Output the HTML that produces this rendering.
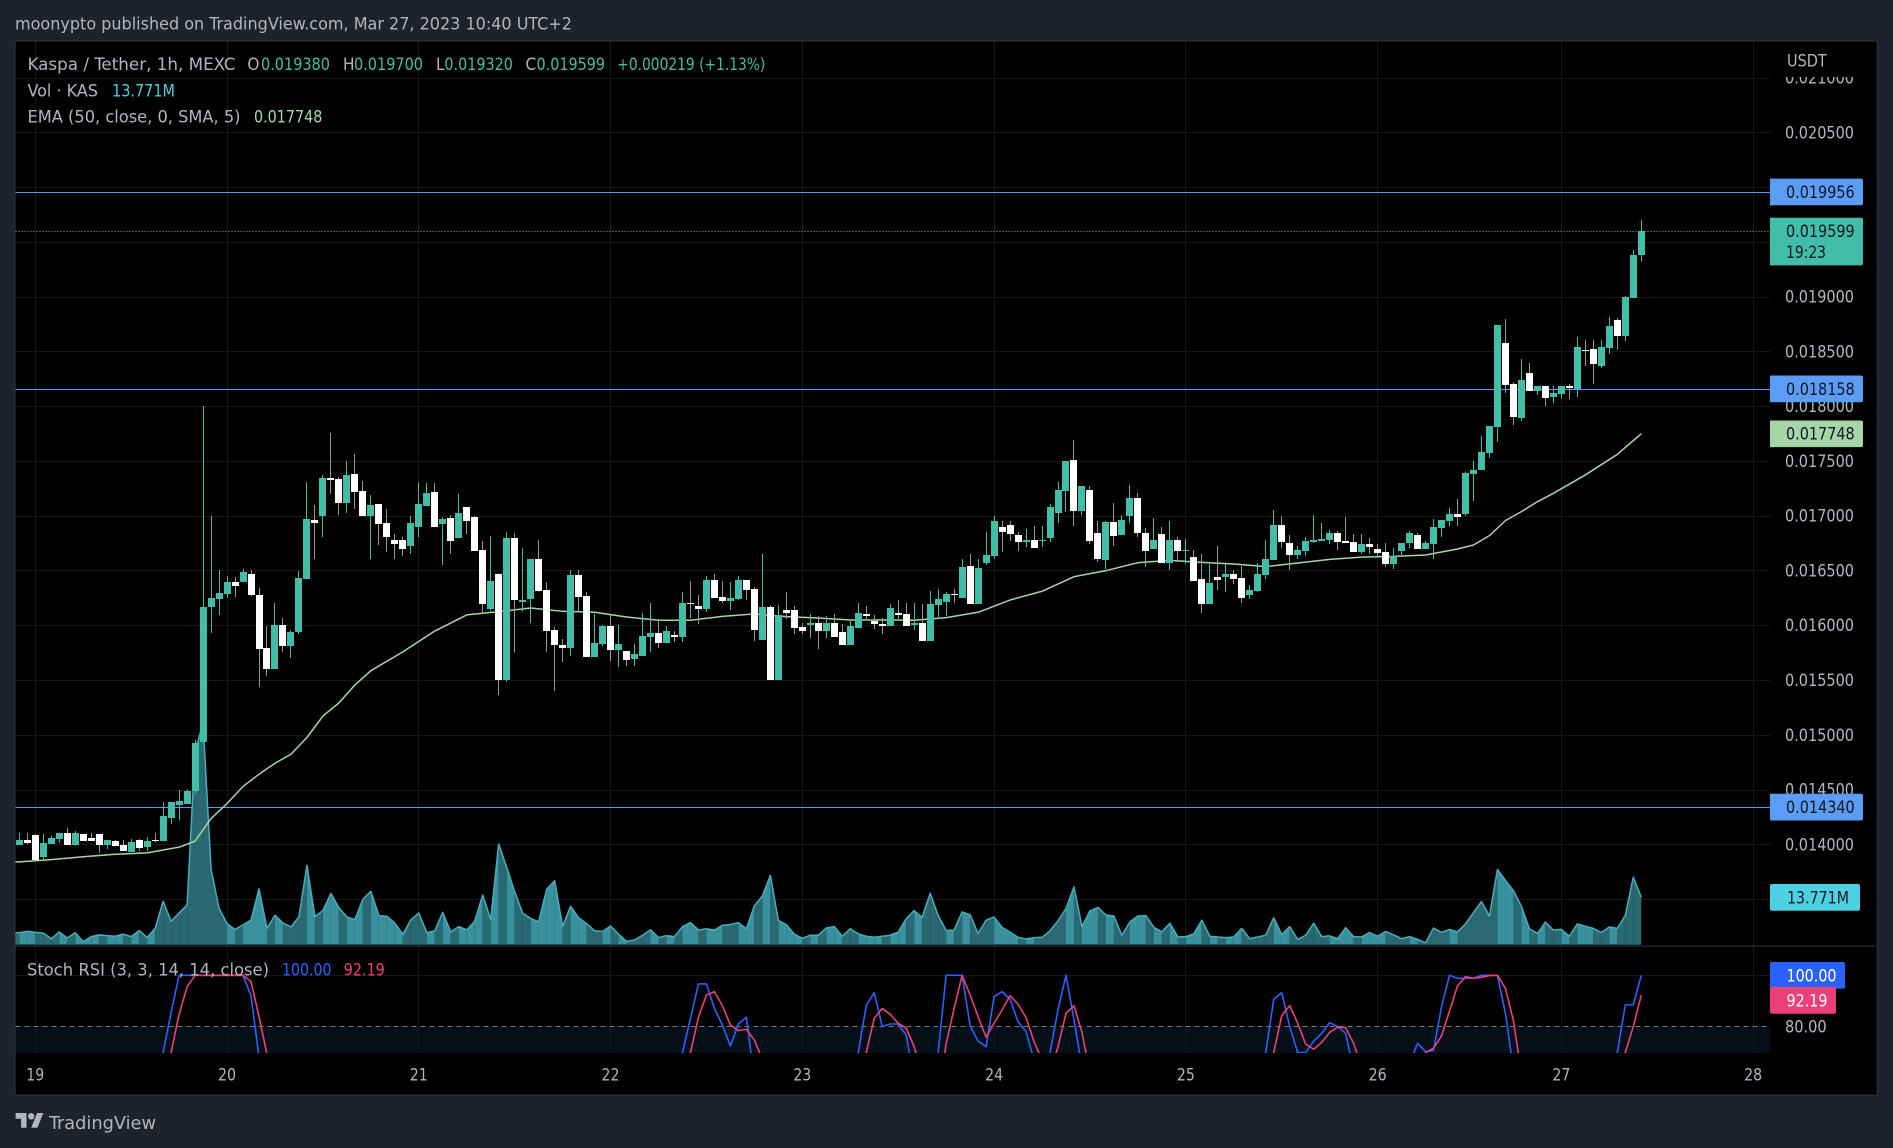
<!DOCTYPE html>
<html lang="en">
<head>
<meta charset="utf-8">
<title>Kaspa / Tether 1h chart</title>
<style>
html,body{margin:0;padding:0;background:#1e222d;width:1893px;height:1148px;overflow:hidden}
svg{display:block}
text{font-family:"DejaVu Sans Condensed","DejaVu Sans",sans-serif;font-stretch:condensed;font-size:17px;fill:#b2b5be}
</style>
</head>
<body>
<svg id="chart" xmlns="http://www.w3.org/2000/svg" width="1893" height="1148" viewBox="0 0 1893 1148">
  <defs>
    <clipPath id="plot-clip"><rect x="15.5" y="41.5" width="1754.5" height="904"/></clipPath>
    <clipPath id="stoch-clip"><rect x="15.5" y="947" width="1754.5" height="106"/></clipPath>
    <clipPath id="axis-clip"><rect x="1771" y="77" width="105" height="869"/></clipPath>
  </defs>
  <rect x="0" y="0" width="1893" height="1148" fill="#1e222d"/>
  <text x="15" y="29.7" textLength="557" lengthAdjust="spacingAndGlyphs">moonypto published on TradingView.com, Mar 27, 2023 10:40 UTC+2</text>
  <rect x="14.8" y="40.8" width="1862.7" height="1054.5" fill="#000" stroke="#2a2e39" stroke-width="1.5"/>

  <rect id="stoch-band" x="15.5" width="1754.5" fill="#040f17"/>
  <g id="grid"></g>
  <g id="levels"></g>
  <g id="volume" clip-path="url(#plot-clip)"></g>
  <g id="ema" clip-path="url(#plot-clip)"></g>
  <g id="candles" clip-path="url(#plot-clip)"></g>
  <g id="stoch" clip-path="url(#stoch-clip)"></g>

  <rect x="15.5" y="945.5" width="1861" height="1.2" fill="#2a2e39"/>

  <g>
    <text x="27.5" y="70" textLength="208" lengthAdjust="spacingAndGlyphs">Kaspa / Tether, 1h, MEXC</text>
    <text x="247.4" y="70">O</text>
    <text x="261" y="70" textLength="69" lengthAdjust="spacingAndGlyphs" style="fill:#42bda8">0.019380</text>
    <text x="343" y="70">H</text>
    <text x="354" y="70" textLength="69" lengthAdjust="spacingAndGlyphs" style="fill:#42bda8">0.019700</text>
    <text x="436" y="70">L</text>
    <text x="444.4" y="70" textLength="68.5" lengthAdjust="spacingAndGlyphs" style="fill:#42bda8">0.019320</text>
    <text x="525.5" y="70">C</text>
    <text x="536.5" y="70" textLength="68.5" lengthAdjust="spacingAndGlyphs" style="fill:#42bda8">0.019599</text>
    <text x="617.3" y="70" textLength="148" lengthAdjust="spacingAndGlyphs" style="fill:#42bda8">+0.000219 (+1.13%)</text>
    <text x="27.5" y="96.5" textLength="70.5" lengthAdjust="spacingAndGlyphs">Vol · KAS</text>
    <text x="112" y="96.5" textLength="63" lengthAdjust="spacingAndGlyphs" style="fill:#4dd0e1">13.771M</text>
    <text x="27.5" y="122.7" textLength="213" lengthAdjust="spacingAndGlyphs">EMA (50, close, 0, SMA, 5)</text>
    <text x="254" y="122.7" textLength="68.4" lengthAdjust="spacingAndGlyphs" style="fill:#a5d6a7">0.017748</text>
    <text x="27" y="975.7" textLength="242" lengthAdjust="spacingAndGlyphs">Stoch RSI (3, 3, 14, 14, close)</text>
    <text x="282" y="975.7" textLength="49.5" lengthAdjust="spacingAndGlyphs" style="fill:#2962ff">100.00</text>
    <text x="343.8" y="975.7" textLength="41" lengthAdjust="spacingAndGlyphs" style="fill:#ec407a">92.19</text>
  </g>

  <g id="price-axis" clip-path="url(#axis-clip)"></g>
  <text x="1787" y="66.7" textLength="39.7" lengthAdjust="spacingAndGlyphs">USDT</text>
  <g id="time-axis"></g>
  <g id="labels"></g>

  <text x="1785" y="1032.3" textLength="41.7" lengthAdjust="spacingAndGlyphs">80.00</text>
  <rect x="1770" y="962" width="75" height="26.7" rx="2" fill="#2962ff"/>
  <text x="1786.5" y="981.3" textLength="50" lengthAdjust="spacingAndGlyphs" style="fill:#fff">100.00</text>
  <rect x="1770" y="987" width="66" height="26.7" rx="2" fill="#ec407a"/>
  <text x="1786.5" y="1006.3" textLength="41" lengthAdjust="spacingAndGlyphs" style="fill:#fff">92.19</text>
  <rect x="1770" y="884" width="90" height="26.7" rx="2" fill="#4dd0e1"/>
  <text x="1787" y="903.3" textLength="62" lengthAdjust="spacingAndGlyphs" style="fill:#131722">13.771M</text>

  <g>
    <g transform="translate(15.6 1109.7) scale(0.78 0.82)" fill="#b2b5be">
      <path d="M14 22H7V11H0V4h14v18zM28 22h-8l7.5-18h8L28 22z"/>
      <circle cx="20" cy="8" r="4"/>
    </g>
    <text x="49" y="1129" textLength="107" lengthAdjust="spacingAndGlyphs" style="font-size:18px">TradingView</text>
  </g>
</svg>
<script>
// prices are in micro-USDT (1e-6), one entry per hourly bar
const opens=[13994,14039,14085,13883,14003,14049,14104,13994,14095,14059,
14095,13994,14029,13994,13928,14039,13974,14036,14029,14241,
14359,14369,14486,14933,16165,16240,16286,16393,16393,16468,
16276,15793,15601,16002,15810,15937,16423,16961,16996,17345,
17335,17117,17381,17225,16996,17107,16934,16778,16778,16722,
16895,17088,17215,16925,16980,16797,17078,16987,16687,16149,
16468,15500,16796,16212,16240,16605,16322,15956,15819,15792,
16458,16267,15710,15829,15993,15774,15765,15692,15719,15893,
15929,15838,15911,15893,16203,16175,16148,16413,16258,16221,
16240,16413,16331,15865,16167,15500,16139,16139,15984,16002,
16020,15947,16020,15938,15819,15975,16103,16039,16011,15993,
16112,16103,16002,16020,15856,16185,16212,16285,16249,16541,
16194,16568,16632,16897,16915,16824,16760,16778,16769,16796,
17025,17225,17508,17043,17235,16842,16595,16942,16824,16997,
17161,16842,16696,16833,16568,16778,16678,16623,16422,16194,
16441,16441,16468,16431,16276,16312,16458,16595,16915,16751,
16641,16678,16760,16769,16778,16842,16769,16760,16669,16742,
16696,16669,16559,16678,16751,16824,16696,16742,16888,16952,
17015,17015,17381,17417,17572,17810,18577,18202,17892,18303,
18138,18184,18084,18111,18184,18154,18513,18522,18367,18531,
18787,18640,18987,19380];
const highs=[14104,14104,14091,14095,14078,14104,14150,14121,14095,14104,
14095,14039,14039,14039,14049,14049,14065,14104,14385,14385,
14496,14502,14952,18001,16996,16504,16449,16439,16514,16504,
16341,15992,16204,16067,15953,16494,17306,17097,17371,17756,
17352,17498,17564,17316,17189,17107,17062,16833,16804,16996,
17306,17300,17300,16987,17006,17199,17078,16996,16768,16814,
16474,16851,16842,16705,16605,16778,16392,15984,15874,16504,
16504,16303,16103,16002,16094,16002,15765,15829,16112,16203,
16057,15993,15947,16303,16404,16276,16450,16468,16404,16395,
16450,16413,16349,16650,16185,16185,16303,16175,16020,16103,
16084,16084,16103,16011,16048,16203,16175,16094,16066,16194,
16230,16203,16203,16194,16312,16331,16303,16331,16605,16650,
16605,16851,16997,16952,16952,16851,16879,16906,16906,17107,
17308,17499,17691,17271,17271,16952,16952,17116,17006,17280,
17207,16887,16979,16897,16952,16805,16787,16687,16650,16559,
16723,16559,16504,16541,16367,16568,16778,17052,16997,16824,
16723,16805,17006,16933,16869,16860,16988,16833,16833,16796,
16742,16751,16705,16751,16860,16842,16769,16970,16961,17070,
17152,17402,17499,17728,17819,18741,18796,18220,18430,18394,
18184,18184,18184,18184,18202,18631,18604,18604,18604,18814,
18805,19006,19426,19700];
const lows=[13994,14003,13857,13857,14003,14013,13994,13987,14029,14029,
13922,13958,13984,13938,13928,13938,13938,14020,14029,14186,
14222,14369,14463,14933,15930,16093,16250,16256,16393,16266,
15435,15536,15601,15754,15702,15920,16423,16605,16804,17199,
17006,17026,17062,16996,16605,16732,16667,16605,16631,16651,
16804,17088,16895,16550,16651,16797,16833,16677,16106,16132,
15363,15485,15750,16124,16023,16306,15755,15400,15664,15719,
16130,15710,15710,15810,15674,15619,15628,15628,15719,15755,
15792,15838,15847,15847,16066,16011,16121,16249,16203,16139,
16230,16230,15856,15865,15500,15500,16057,15920,15920,15884,
15783,15884,15893,15819,15819,15975,16039,15966,15920,15993,
16057,15993,15956,15856,15856,16075,16084,16203,16249,16194,
16194,16550,16608,16669,16769,16678,16714,16705,16714,16760,
16933,17034,16906,17007,16742,16577,16513,16723,16824,16933,
16805,16532,16696,16568,16504,16577,16559,16404,16112,16194,
16322,16303,16376,16203,16240,16303,16422,16595,16705,16504,
16605,16632,16751,16769,16742,16687,16751,16669,16650,16650,
16632,16532,16513,16641,16705,16696,16696,16605,16806,16906,
16906,16997,17134,17417,17527,17673,18120,17828,17864,18138,
18102,18001,18029,18065,18065,18084,18367,18202,18348,18476,
18513,18595,18987,19320];
const closes=[14039,14013,13860,14013,14059,14104,13994,14104,14029,14029,
13994,14039,13984,13938,14020,13967,14029,14029,14258,14385,
14395,14486,14926,16165,16250,16295,16393,16357,16484,16276,
15783,15601,16002,15810,15937,16432,16970,16934,17345,17326,
17117,17371,17215,16996,17097,16925,16804,16742,16696,16934,
17107,17208,16895,16970,16768,17026,16951,16677,16194,16403,
15500,16796,16230,16230,16605,16312,15947,15819,15792,16458,
16258,15710,15838,15993,15774,15829,15683,15737,15902,15929,
15838,15947,15893,16203,16194,16148,16413,16249,16221,16249,
16413,16322,15956,16167,15500,16094,16112,15975,15947,16020,
15947,16020,15893,15819,15993,16112,16084,16011,15993,16157,
16094,15993,16020,15856,16194,16240,16285,16276,16532,16194,
16523,16641,16952,16851,16833,16760,16778,16705,16778,17079,
17235,17499,17043,17271,16769,16605,16942,16815,16961,17161,
16842,16678,16778,16568,16778,16678,16687,16404,16194,16386,
16413,16468,16422,16249,16322,16468,16605,16915,16760,16641,
16687,16769,16778,16787,16842,16760,16751,16669,16742,16714,
16660,16559,16632,16751,16842,16696,16751,16897,16961,17015,
16988,17390,17417,17582,17819,18741,18193,17901,18239,18138,
18184,18074,18120,18184,18166,18540,18504,18385,18540,18732,
18640,18996,19380,19599];
// volume in millions of KAS
const volumes=[3.44,3.86,3.54,3.33,1.67,3.65,1.88,3.44,0.83,2.29,
2.81,2.6,2.4,3.02,2.29,4.06,2.08,4.69,12.6,6.77,
9.2,11.5,56.3,64.6,21.9,10.6,6.04,4.38,5.73,7.09,
16.2,4.69,8.54,6.25,5.11,8.02,23.1,8.13,9.9,14.9,
10.7,8.02,7.29,13.2,15.5,8.44,8.23,6.25,2.92,7.19,
9.17,3.44,3.96,9.38,3.65,5.21,4.27,6.77,14.4,7.29,
29.3,22.5,15.4,9.1,7.6,6.6,16.1,18.6,5.3,11.1,
7.8,6.1,4.0,3.8,5.4,3.0,0.9,1.3,2.7,4.3,
2.0,2.6,2.3,5.2,6.4,4.2,4.6,4.2,5.6,5.8,
6.4,4.6,11.3,14.1,20.2,7.0,5.8,3.0,1.8,2.7,
2.7,4.8,5.2,2.4,4.6,3.1,2.4,2.1,2.4,2.7,
3.6,7.5,9.9,7.9,14.9,8.5,4.1,4.2,9.5,8.7,
3.2,7.1,8.0,5.0,3.6,2.1,1.6,2.0,2.1,4.0,
6.9,10.5,16.8,5.2,9.8,10.8,8.6,8.3,2.7,6.6,
8.3,8.4,5.0,3.7,6.2,2.2,2.3,3.1,7.1,2.4,
2.2,2.0,2.2,4.7,1.7,2.2,2.7,7.8,2.9,5.2,
1.5,2.7,6.2,2.3,2.5,1.7,4.9,2.3,2.2,3.5,
2.4,3.8,2.8,1.7,2.3,1.5,0.5,4.8,3.5,4.4,
3.7,6.0,9.3,12.5,8.3,21.9,18.7,15.7,11.1,4.6,
3.2,6.5,4.2,4.4,2.4,6.0,5.3,4.7,3.5,5.1,
4.7,8.5,19.6,13.771];
// EMA read at these bars
const emaBars=[0,4,8,12,16,20,22,24,26,28,30,32,34,36,38,40,42,44,48,52,56,60,64,68,72,76,80,84,88,92,96,100,104,108,112,116,120,124,128,132,136,140,144,148,152,156,160,164,168,172,176,180,182,184,186,188,190,192,196,200,203];
const emaValues=[13840,13860,13886,13909,13922,13974,14029,14235,14372,14528,14639,14740,14822,14975,15171,15291,15454,15585,15757,15947,16094,16124,16157,16127,16118,16075,16045,16045,16081,16103,16078,16066,16048,16048,16045,16069,16118,16230,16310,16443,16498,16571,16592,16574,16559,16535,16568,16601,16622,16628,16641,16696,16732,16818,16955,17037,17128,17204,17372,17560,17748];
// Stoch RSI; values under about 70 are outside the visible pane and are estimates
const stochK=[12,18,25,30,33,40,48,45,38,30,24,20,15,10,8,12,25,42,69.7,85.4,
100,100,100,100,100,100,100,100,100,92,68,45,
52,61,66,58,49,38,30,24,19,15,22,34,44,52,47,39,31,26,20,16,12,9,14,22,31,40,46,37,28,22,17,13,18,27,36,45,52,48,41,33,26,20,16,21,30,38,47,55,60,64,66,
69.7,83.1,96.6,96.6,87,80.5,72.3,80.9,83.6,59,
40,28,19,12,8,6,9,15,24,33,44,55,
69.7,88.1,93.2,79.9,80.9,80.9,76.6,59,45,52,
69.7,100,100,100,80.2,74.2,72,91.6,93.6,90.6,81.8,77.9,66.8,48,69.7,86.4,100,82.5,64,
48,36,26,18,11,6,4,7,13,21,30,39,46,41,33,25,18,14,20,31,45,58,
69.7,90.6,93.2,79.9,69.7,69.7,74.2,77.2,81.4,79.9,77.2,62.9,
50,42,38,45,52,60,
65.5,73.3,70.1,70.5,87.7,100,98.8,98.8,98.8,100,100,100,85.1,62.9,
44,30,18,9,5,3,6,12,20,30,42,55,
69.7,88.4,88.4,100];
const stochD=[15,14,18,24,29,33,39,44,44,38,31,25,20,15,11,10,15,26,50,
69.7,84.7,95.5,100,100,100,100,100,100,100,97.5,83.8,69,
55,50,58,62,57,48,38,30,24,19,18,24,33,43,48,46,39,32,26,21,16,12,12,15,22,31,39,41,37,29,22,17,16,19,27,36,44,48,47,41,33,26,21,19,23,30,38,47,54,59,62,64,
69.7,83.5,92.3,93.6,88.1,80.5,78.3,78.8,74.6,67,
50,35,25,18,12,8,8,11,17,25,34,55,
69.7,83.1,87,84.7,81.2,79.2,72,61,52,50,
73.3,87,100,92.3,83.8,75.7,81.2,86.4,92,88.7,83.4,74,66.8,62,72,85.1,88.1,77.6,61.6,
52,40,30,21,14,9,7,8,13,20,29,37,42,41,33,26,20,17,21,33,46,60,
69.7,84.2,88.1,81.2,73,71,73.7,77.6,79.7,79.5,73.3,64,
55,47,44,45,50,57,63,
69.7,71.4,76.2,86,95.8,99.5,98.8,99.2,99.9,100,94.9,82.2,61.6,
45,32,19,10,6,5,8,13,21,31,42,55,
69.7,79.9,92.19];
// axis tick labels and categories
const priceTickLabels=["0.021000","0.020500","0.020000","0.019500","0.019000","0.018500","0.018000","0.017500","0.017000","0.016500","0.016000","0.015500","0.015000","0.014500","0.014000"];
const gridPriceExtra=["0.013500"];
const dayLabels=["19","20","21","22","23","24","25","26","27","28"];
const dayBars=[2,26,50,74,98,122,146,170,193,217];
const levelValues=[19956,18158,14340];
const levelLabels=["0.019956","0.018158","0.014340"];
const lastEma=17748;
const lastEmaLabel="0.017748";
const lastPriceLabel="0.019599";
const countdownLabel="19:23";
const stochUpper=80;
const stochTop=100;

const NS='http://www.w3.org/2000/svg';
const xBar=i=>19.3+7.99*i;
const yPrice=p=>132.3+(20500-p)*0.109538;
const yVol=v=>944.5-v*3.43;
// the pane clips below its floor, so off-pane values are held just inside the page
const yStoch=s=>Math.min(975.3+(100-s)*2.55,1140);
const plotLeft=15.5, plotRight=1770, plotTop=41.5, stochBottom=1053;
const UP='#42bda8', DOWN='#ffffff', DOWN_WICK='#98989c';

function make(tag,attrs,parent){
  const el=document.createElementNS(NS,tag);
  for(const k in attrs) el.setAttribute(k,attrs[k]);
  parent.appendChild(el);
  return el;
}
const $=id=>document.getElementById(id);

// stoch band
const band=$('stoch-band');
band.setAttribute('y',yStoch(stochUpper));
band.setAttribute('height',stochBottom-yStoch(stochUpper));

// grid
const gridG=$('grid');
priceTickLabels.concat(gridPriceExtra).forEach(l=>{
  const y=Math.round(yPrice(Number(l)*1e6))+0.5;
  const ln=make('line',{x1:plotLeft,x2:plotRight,y1:y,y2:y,stroke:'#15171c','stroke-width':1},gridG);
  
  
});
dayBars.forEach(b=>{
  const x=Math.floor(xBar(b))+0.5;
  const ln=make('line',{x1:x,x2:x,y1:plotTop,y2:stochBottom,stroke:'#14171b','stroke-width':1},gridG);
  
  
});
{
  const y=Math.round(yStoch(stochTop))+0.5;
  const ln=make('line',{x1:plotLeft,x2:plotRight,y1:y,y2:y,stroke:'#15171c','stroke-width':1},gridG);
  
  
}
{
  const y=Math.round(yStoch(stochUpper))+0.5;
  const ln=make('line',{x1:plotLeft,x2:plotRight,y1:y,y2:y,stroke:'#787b86','stroke-width':1,'stroke-dasharray':'5 4'},gridG);
  
  
}

// levels
const levelsG=$('levels');
levelValues.forEach(v=>{
  const y=Math.round(yPrice(v))+0.5;
  const ln=make('line',{x1:plotLeft,x2:plotRight,y1:y,y2:y,stroke:'#5b9cf6','stroke-width':1},levelsG);
  
  
});
{
  const y=Math.round(yPrice(closes[closes.length-1]))+0.5;
  const ln=make('line',{x1:plotLeft,x2:plotRight,y1:y,y2:y,stroke:UP,'stroke-width':1,'stroke-dasharray':'1 2'},levelsG);
  
  
}

// volume area: each bar's segment is coloured by its candle direction
const volG=$('volume');
for(let i=0;i<volumes.length;i++){
  const x1=i===0?plotLeft:xBar(i-1), x2=xBar(i);
  const v1=i===0?volumes[0]:volumes[i-1];
  const seg=make('polygon',{points:`${x1},${yVol(v1)} ${x2},${yVol(volumes[i])} ${x2},${yVol(0)} ${x1},${yVol(0)}`,fill:closes[i]>=opens[i]?'#2b6972':'#38919d'},volG);
  
  
}
{
  let d=`M${plotLeft} ${yVol(volumes[0])}`;
  volumes.forEach((v,i)=>{d+=`L${xBar(i)} ${yVol(v)}`;});
  const ln=make('path',{d:d,fill:'none',stroke:'#46aebd','stroke-width':1.5,'stroke-linejoin':'round'},volG);
  
  
  const base=make('line',{x1:plotLeft,x2:xBar(volumes.length-1),y1:yVol(0),y2:yVol(0),stroke:'#1f4f57','stroke-width':1},volG);
  
  
}

// EMA
{
  let d=`M${plotLeft} ${yPrice(emaValues[0])}`;
  emaBars.forEach((b,k)=>{d+=`L${xBar(b)} ${yPrice(emaValues[k])}`;});
  const ln=make('path',{d:d,fill:'none',stroke:'#a5d6a7','stroke-width':1.5,'stroke-linejoin':'round'},$('ema'));
  
  
}

// candles
const candlesG=$('candles');
for(let i=0;i<opens.length;i++){
  const up=closes[i]>=opens[i];
  const px=Math.floor(xBar(i));
  const g=make('g',{},candlesG);
  
  
  const yh=yPrice(highs[i]), yl=yPrice(lows[i]);
  const wick=make('rect',{x:px,y:yh,width:1,height:Math.max(0,yl-yh),fill:up?UP:DOWN_WICK},g);
  
  
  const top=yPrice(Math.max(opens[i],closes[i])), bot=yPrice(Math.min(opens[i],closes[i]));
  const body=make('rect',{x:px-3,y:Math.round(top),width:7,height:Math.max(1,Math.round(bot)-Math.round(top)),fill:up?UP:DOWN},g);
  
  
}

// stoch
function stochPath(arr){
  let d='';
  arr.forEach((v,i)=>{d+=(i?'L':'M')+xBar(i)+' '+yStoch(v);});
  return d;
}
{
  const k=make('path',{d:stochPath(stochK),fill:'none',stroke:'#2962ff','stroke-width':1.6,'stroke-linejoin':'round'},$('stoch'));
  
  
  const dl=make('path',{d:stochPath(stochD),fill:'none',stroke:'#ec407a','stroke-width':1.6,'stroke-linejoin':'round'},$('stoch'));
  
  
}

// axis labels
const axisG=$('price-axis');
priceTickLabels.forEach(l=>{
  const t=make('text',{x:1785,y:yPrice(Number(l)*1e6)+6,textLength:69,lengthAdjust:'spacingAndGlyphs'},axisG);
  t.textContent=l;
  
  
});
const timeG=$('time-axis');
dayLabels.forEach((l,i)=>{
  const t=make('text',{x:xBar(dayBars[i])-9,y:1080.7,textLength:18,lengthAdjust:'spacingAndGlyphs'},timeG);
  t.textContent=l;
  
  
});

// price badges
const labG=$('labels');
const badgeTextWidths=[68.7,40];
function badge(yc,h,fill,lines){
  const r=make('rect',{x:1770,y:yc-13.3,width:93,height:h,rx:2,fill:fill},labG);
  
  
  const c=make('rect',{x:1770,y:yc-13.3,width:4,height:h,fill:fill},labG);
  
  
  lines.forEach((s,i)=>{
    const t=make('text',{x:1786,y:yc+6+i*21,textLength:badgeTextWidths[i],lengthAdjust:'spacingAndGlyphs',style:'fill:#131722'},labG);
    t.textContent=s;
    
    
  });
}
levelValues.forEach((v,i)=>badge(yPrice(v),26.7,'#5b9cf6',[levelLabels[i]]));
badge(yPrice(closes[closes.length-1]),47.7,UP,[lastPriceLabel,countdownLabel]);
badge(yPrice(lastEma),26.7,'#a5d6a7',[lastEmaLabel]);
</script>
</body>
</html>
